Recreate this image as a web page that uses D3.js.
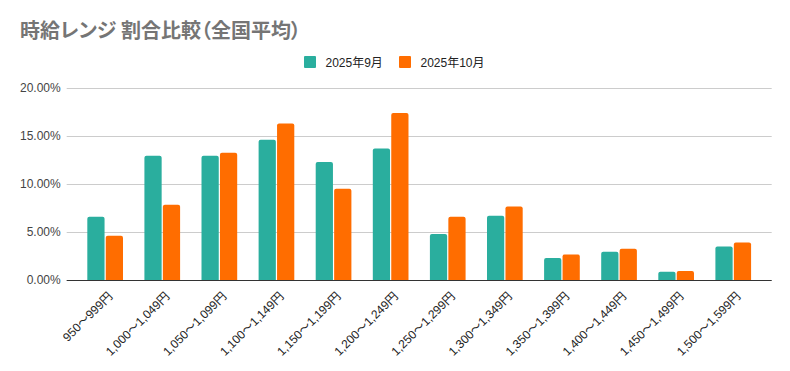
<!DOCTYPE html>
<html><head><meta charset="utf-8">
<script src="https://cdn.jsdelivr.net/npm/d3@7"></script>
<style>
body{margin:0;background:#fff;}
text{font-family:"Liberation Sans",Arial,"Noto Sans CJK JP",sans-serif;}
</style></head>
<body><svg id="chart" width="790" height="371"></svg>
<script>
const title = "時給レンジ 割合比較（全国平均）";
const categories = ["950〜999円","1,000〜1,049円","1,050〜1,099円","1,100〜1,149円","1,150〜1,199円","1,200〜1,249円","1,250〜1,299円","1,300〜1,349円","1,350〜1,399円","1,400〜1,449円","1,450〜1,499円","1,500〜1,599円"];
const seriesNames = ["2025年9月","2025年10月"];
const sep2025 = [6.6,12.95,12.95,14.6,12.3,13.7,4.8,6.7,2.3,2.95,0.85,3.5];
const oct2025 = [4.6,7.85,13.25,16.3,9.5,17.4,6.6,7.65,2.65,3.25,0.95,3.9];
const yTicks = [0,5,10,15,20];
const colors = ["#2aae9e","#ff6d00"];

const svg = d3.select("#chart");
const L = 66.7, R = 771.7, T = 88, B = 280;
const x = d3.scaleBand().domain(categories).range([L,R]).paddingInner(0.375).paddingOuter(0.361);
const xs = d3.scaleBand().domain(seriesNames).range([0,x.bandwidth()]).paddingInner(0.065);
const y = d3.scaleLinear().domain([0,20]).range([B,T]);

svg.append("text").attr("x",20).attr("y",38).attr("font-size",20).attr("font-weight","bold")
  .attr("fill","#757575").style("font-family","'Noto Sans CJK JP',sans-serif")
  .style("font-feature-settings","'palt'").text(title);

// legend
const legX = [304,399];
seriesNames.forEach((s,i)=>{
  svg.append("rect").attr("x",legX[i]).attr("y",56).attr("width",12).attr("height",12).attr("rx",1).attr("fill",colors[i]);
  svg.append("text").attr("x",legX[i]+21.5).attr("y",66.5).attr("font-size",12).attr("fill","#222").text(s);
});

// grid
const yAxis = svg.append("g").attr("transform",`translate(${L},0)`)
  .call(d3.axisLeft(y).tickValues(yTicks).tickSize(-(R-L)).tickFormat(d=>d3.format(".2f")(d)+"%"));
yAxis.select(".domain").remove();
yAxis.selectAll(".tick line").attr("stroke","#cccccc");
yAxis.selectAll(".tick text").attr("x",-6).attr("font-size",12).attr("fill","#444").attr("font-family","Liberation Sans,Arial,sans-serif");

// bars
const data = categories.map((c,i)=>({c, vals:[sep2025[i],oct2025[i]]}));
const r = 2;
function barPath(x0,w,yTop,yBot){
  return `M${x0},${yBot}V${yTop+r}Q${x0},${yTop} ${x0+r},${yTop}H${x0+w-r}Q${x0+w},${yTop} ${x0+w},${yTop+r}V${yBot}Z`;
}
const g = svg.append("g");
data.forEach(d=>{
  d.vals.forEach((v,i)=>{
    g.append("path").attr("d",barPath(x(d.c)+xs(seriesNames[i]),xs.bandwidth(),y(v),y(0))).attr("fill",colors[i]);
  });
});

// baseline
svg.append("line").attr("x1",L).attr("x2",R).attr("y1",B+0.5).attr("y2",B+0.5).attr("stroke","#333").attr("stroke-width",1);

// x labels
const xAxis = svg.append("g").attr("transform",`translate(0,${B})`).call(d3.axisBottom(x).tickSize(0));
xAxis.select(".domain").remove();
xAxis.selectAll(".tick text")
  .attr("font-size",12).attr("fill","#222").attr("text-anchor","end")
  .attr("font-family","Liberation Sans,Arial,Noto Sans CJK JP,sans-serif")
  .attr("transform","translate(5,14) rotate(-45)").attr("dy","0.35em").attr("y",0).attr("x",0);
</script></body></html>
